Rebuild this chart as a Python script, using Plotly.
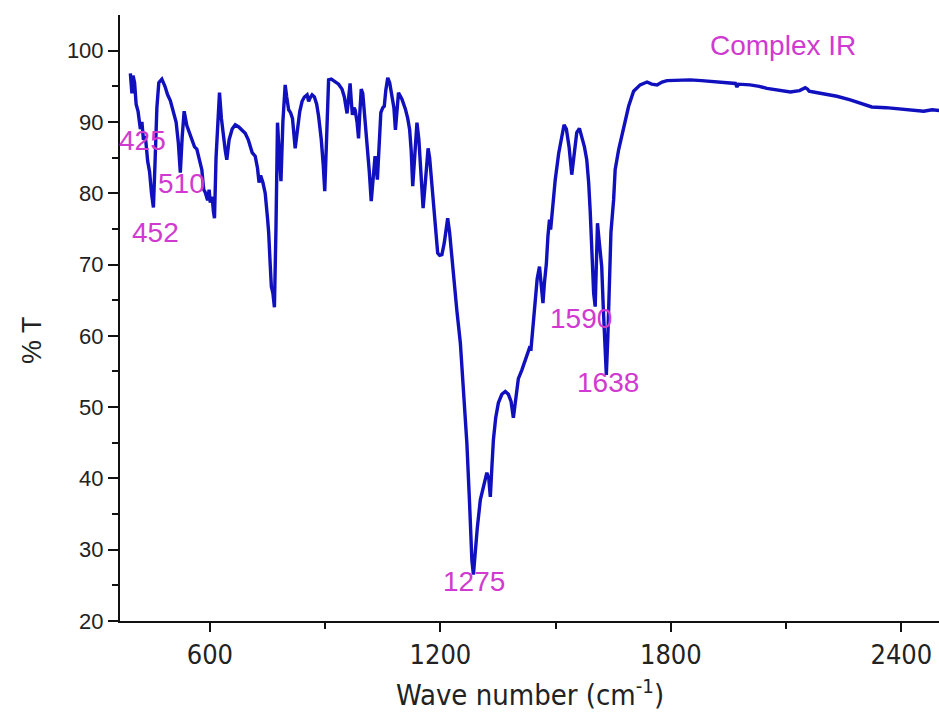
import plotly.graph_objects as go

# Wave number (cm^-1) and % transmittance
wavenumber = [
    393, 397, 400, 404, 408, 413, 419, 423, 427, 432, 438, 443, 448, 453, 457, 462, 467, 475,
    483, 490, 497, 505, 512, 518, 523, 528, 533, 540, 547, 553, 560, 566, 572, 579, 584, 588,
    594, 598, 601, 606, 609, 612, 616, 620, 625, 630, 635, 640, 644, 650, 658, 666, 675, 684,
    692, 700, 710, 718, 724, 728, 732, 738, 744, 750, 753, 757, 760, 764, 768, 772, 776, 780,
    785, 790, 796, 800, 805, 810, 815, 822, 828, 834, 840, 846, 853, 857, 862, 866, 872, 878,
    883, 890, 895, 899, 904, 909, 916, 926, 935, 944, 950, 957, 961, 965, 968, 971, 975, 978,
    983, 987, 990, 994, 998, 1003, 1009, 1015, 1020, 1025, 1030, 1036, 1040, 1045, 1050, 1054,
    1058, 1063, 1068, 1074, 1079, 1083, 1087, 1091, 1100, 1109, 1115, 1120, 1124, 1128, 1133,
    1139, 1144, 1150, 1155, 1160, 1165, 1168, 1172, 1177, 1182, 1187, 1193, 1198, 1204, 1210,
    1216, 1219, 1224, 1229, 1234, 1243, 1252, 1260, 1269, 1276, 1282, 1286, 1290, 1296, 1304,
    1310, 1316, 1321, 1326, 1330, 1334, 1338, 1344, 1351, 1360, 1369, 1377, 1384, 1390, 1396,
    1403, 1412, 1421, 1428, 1432, 1436, 1440, 1447, 1452, 1458, 1462, 1467, 1471, 1476, 1480,
    1484, 1487, 1490, 1495, 1499, 1508, 1516, 1522, 1528, 1535, 1542, 1548, 1555, 1562, 1568,
    1575, 1581, 1586, 1590, 1594, 1599, 1603, 1606, 1609, 1613, 1617, 1620, 1624, 1628, 1632,
    1636, 1640, 1644, 1651, 1655, 1664, 1677, 1690, 1703, 1720, 1738, 1750, 1764, 1777, 1790,
    1820, 1850, 1880, 1920, 1950, 1968, 1972, 1976, 2006, 2030, 2050, 2080, 2111, 2135, 2150,
    2156, 2160, 2171, 2200, 2232, 2267, 2295, 2323, 2360, 2406, 2440, 2458, 2480, 2500,
]
transmittance = [
    96.8, 94.0, 96.5, 95.5, 92.5, 91.5, 89.0, 90.0, 87.5, 88.0, 84.5, 83.0, 80.0, 78.0, 84.0, 92.0, 95.5, 96.0,
    95.0, 93.8, 93.0, 91.5, 90.0, 87.0, 82.9, 88.0, 91.5, 89.5, 88.5, 87.5, 86.5, 86.2, 85.0, 83.3, 80.5, 80.1,
    79.0, 80.5, 78.7, 79.5, 77.5, 76.5, 85.0, 90.0, 94.1, 90.5, 88.0, 86.0, 84.7, 87.5, 89.0, 89.6, 89.3, 88.8,
    88.4, 87.5, 85.7, 85.2, 83.5, 81.5, 82.5, 81.5, 80.0, 76.5, 74.5, 70.0, 66.9, 66.0, 64.0, 75.0, 89.9, 86.0,
    81.7, 90.0, 95.2, 93.5, 91.7, 91.3, 90.5, 86.3, 89.0, 91.5, 92.9, 93.5, 93.8, 92.9, 93.5, 93.8, 93.5, 92.5,
    90.8, 87.5, 84.0, 80.3, 88.0, 95.9, 96.0, 95.7, 95.3, 94.6, 93.5, 91.2, 93.5, 95.4, 93.0, 91.0, 92.0, 91.7,
    90.0, 87.7, 91.0, 94.6, 94.0, 91.0, 87.0, 83.0, 78.9, 82.5, 85.2, 81.9, 86.0, 91.3, 92.0, 92.2,
    94.5, 96.2, 95.5, 93.6, 92.0, 88.9, 92.0, 94.1, 93.2, 91.8, 90.5, 88.9, 86.0, 81.0, 85.0,
    89.9, 87.5, 82.0, 77.9, 81.0, 85.5, 86.3, 85.0, 82.0, 78.6, 75.0, 71.6, 71.3, 71.4, 73.0,
    76.0, 76.5, 74.5, 71.5, 68.3, 63.5, 59.0, 52.5, 44.9, 36.5, 28.5, 26.5, 29.5, 33.0, 37.0,
    38.5, 40.0, 40.8, 40.0, 37.4, 41.5, 45.4, 48.5, 50.6, 51.8, 52.2, 51.8, 50.8, 48.5, 51.0,
    54.0, 55.2, 56.6, 57.8, 58.3, 58.2, 60.5, 65.5, 68.0, 69.7, 67.5, 64.6, 67.5, 70.2, 74.0,
    76.3, 74.9, 76.5, 80.0, 81.9, 85.6, 88.2, 89.6, 89.0, 86.5, 82.6, 85.5, 88.5, 89.1, 88.0,
    86.5, 84.7, 81.5, 77.5, 72.0, 66.0, 64.1, 70.0, 75.8, 73.5, 71.0, 69.7, 64.0, 58.0, 54.5,
    60.0, 68.0, 74.5, 79.1, 83.3, 86.1, 89.4, 92.2, 94.3, 95.2, 95.6, 95.3, 95.2, 95.6, 95.8,
    95.9, 95.9, 95.8, 95.6, 95.5, 95.4, 94.9, 95.3, 95.2, 95.0, 94.7, 94.5, 94.2, 94.4, 94.8,
    94.6, 94.3, 94.2, 93.9, 93.6, 93.1, 92.6, 92.1, 92.0, 91.8, 91.6, 91.5, 91.7, 91.6,
]

# Peak labels: text, x (cm^-1), y (%T)
peak_labels = ["425", "510", "452", "1275", "1590", "1638"]
peak_label_x = [424, 525, 458, 1288, 1567, 1637]
peak_label_y = [87.4, 81.3, 74.5, 25.6, 62.5, 53.4]

x_tick_vals = [600, 1200, 1800, 2400]
y_tick_vals = [20, 30, 40, 50, 60, 70, 80, 90, 100]

LINE = "#1010BE"
MAG = "#D03AD0"
SANS = "Liberation Sans, Arial, sans-serif"
NARROW = "Liberation Sans Narrow, Arial Narrow, DejaVu Sans Condensed, sans-serif"

fig = go.Figure()
fig.add_trace(go.Scatter(
    x=wavenumber, y=transmittance, mode="lines",
    line=dict(color=LINE, width=3.4), showlegend=False,
))

for t, xv, yv in zip(peak_labels, peak_label_x, peak_label_y):
    fig.add_annotation(x=xv, y=yv, xref="x", yref="y", text=t, showarrow=False,
                       font=dict(family=SANS, size=28, color=MAG))

fig.add_annotation(x=2092, y=100.7, xref="x", yref="y", text="Complex IR", showarrow=False,
                   font=dict(family=SANS, size=28, color=MAG))

fig.add_annotation(x=0.5, y=0, xref="paper", yref="paper", yshift=-72, yanchor="middle",
                   text="Wave number (cm<sup>-1</sup>)", showarrow=False,
                   font=dict(family=NARROW, size=29, color="#222222"))
fig.add_annotation(x=0, y=0.4637, xref="paper", yref="paper", xshift=-88, xanchor="center",
                   text="% T", textangle=-90, showarrow=False,
                   font=dict(family=SANS, size=27, color="#222222"))

fig.update_layout(
    width=939, height=715,
    margin=dict(l=120, r=0, t=15, b=94),
    paper_bgcolor="white", plot_bgcolor="white",
    xaxis=dict(range=[366, 2498], tickvals=x_tick_vals, ticktext=[str(v) for v in x_tick_vals],
               showgrid=False, zeroline=False, showline=True, linecolor="#111111", linewidth=2,
               ticks="outside", ticklen=9, tickwidth=2, tickcolor="#111111",
               tickfont=dict(family=NARROW, size=27, color="#222222"),
               minor=dict(tickvals=[900, 1500, 2100], ticks="outside", ticklen=6,
                          tickwidth=2, tickcolor="#111111", showgrid=False)),
    yaxis=dict(range=[20, 105], tickvals=y_tick_vals, showgrid=False, zeroline=False,
               showline=True, linecolor="#111111", linewidth=2,
               ticks="outside", ticklen=10, tickwidth=2, tickcolor="#111111",
               tickfont=dict(family=SANS, size=22, color="#222222"),
               minor=dict(tickvals=[25, 35, 45, 55, 65, 75, 85, 95], ticks="outside", ticklen=6,
                          tickwidth=2, tickcolor="#111111", showgrid=False)),
)

fig.write_html("out.html")
